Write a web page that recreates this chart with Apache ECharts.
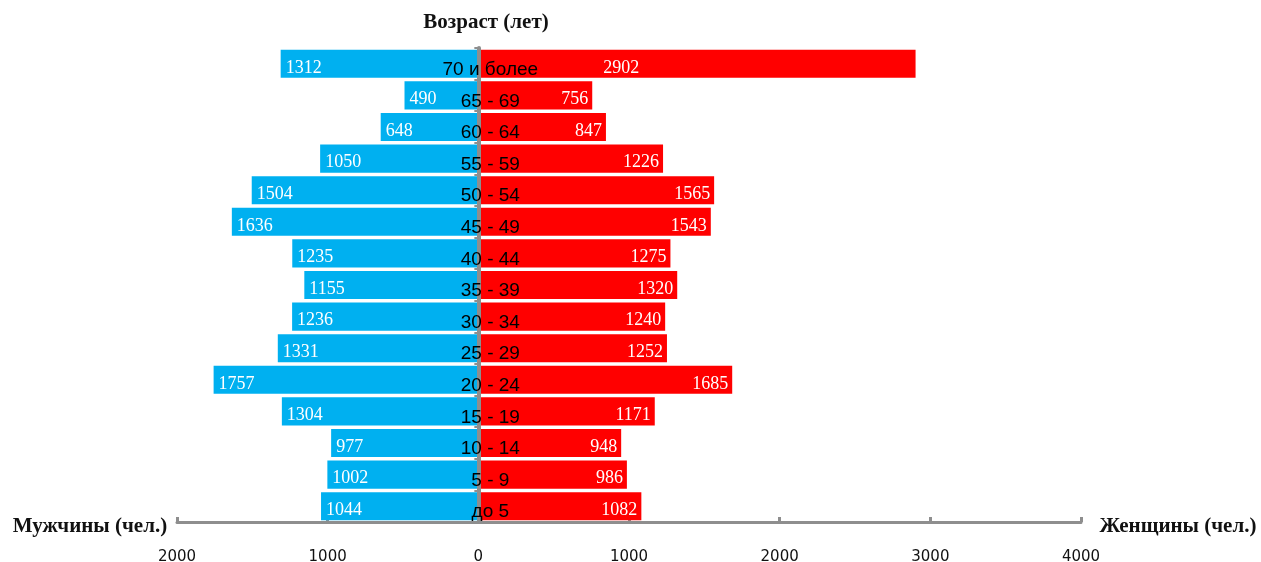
<!DOCTYPE html>
<html>
<head>
<meta charset="utf-8">
<script src="https://cdn.jsdelivr.net/npm/echarts@6/dist/echarts.min.js"></script>
<style>
  html, body { margin: 0; padding: 0; background: #fff; }
  #main { width: 1261px; height: 562px; }
</style>
</head>
<body>
<div id="main"></div>
<script>
// возрастные группы, снизу вверх
var ageGroups = ['до 5', '5 - 9', '10 - 14', '15 - 19', '20 - 24', '25 - 29', '30 - 34',
  '35 - 39', '40 - 44', '45 - 49', '50 - 54', '55 - 59', '60 - 64', '65 - 69', '70 и более'];
var men = [1044, 1002, 977, 1304, 1757, 1331, 1236, 1155, 1235, 1636, 1504, 1050, 648, 490, 1312];
var women = [1082, 986, 948, 1171, 1685, 1252, 1240, 1320, 1275, 1543, 1565, 1226, 847, 756, 2902];
var xTicks = [-2000, -1000, 0, 1000, 2000, 3000, 4000];

var axisGray = '#8e8e8e';
var valueFont = { color: '#fff', fontFamily: 'Liberation Serif', fontSize: 18 };
var titleFont = { fontFamily: 'Liberation Serif', fontWeight: 'bold', fontSize: 21, fill: '#111' };

var gridLeft = 177;
var gridRight = 180;
var plotWidth = 1261 - gridLeft - gridRight;
// сдвиг вертикальной оси к нулю
var zeroShift = plotWidth * (0 - xTicks[0]) / (xTicks[xTicks.length - 1] - xTicks[0]);

var myChart = echarts.init(document.getElementById('main'));

var option = {
  animation: false,
  grid: { left: gridLeft, right: gridRight, top: 48, bottom: 40, containLabel: false, outerBoundsMode: 'none' },
  xAxis: {
    type: 'value',
    min: xTicks[0],
    max: xTicks[xTicks.length - 1],
    interval: 1000,
    axisLine: { show: true, lineStyle: { color: axisGray, width: 3 } },
    axisTick: { show: true, inside: true, length: 5, lineStyle: { color: axisGray, width: 3 } },
    splitLine: { show: false },
    axisLabel: {
      margin: 28,
      color: '#111',
      fontFamily: 'DejaVu Sans',
      fontSize: 15,
      formatter: function (v) { return Math.abs(v); }
    }
  },
  yAxis: {
    type: 'category',
    data: ageGroups,
    z: 10,
    offset: -zeroShift,
    axisLine: { show: true, onZero: false, lineStyle: { color: axisGray, width: 4 } },
    axisTick: { show: true, length: 4, lineStyle: { color: axisGray, width: 2 } },
    axisLabel: {
      align: 'center',
      verticalAlign: 'top',
      lineHeight: 12,
      margin: -12,
      color: '#000',
      fontFamily: 'Liberation Sans',
      fontSize: 19
    }
  },
  series: [
    {
      name: 'Мужчины',
      type: 'bar',
      stack: 'total',
      barCategoryGap: '11%',
      itemStyle: { color: '#00b0f0' },
      label: Object.assign({
        show: true,
        position: 'insideLeft',
        distance: 5,
        offset: [0, 4],
        formatter: function (p) { return Math.abs(p.value); }
      }, valueFont),
      data: men.map(function (v) { return -v; })
    },
    {
      name: 'Женщины',
      type: 'bar',
      stack: 'total',
      barCategoryGap: '11%',
      itemStyle: { color: '#ff0000' },
      label: Object.assign({
        show: true,
        position: 'insideRight',
        distance: 4,
        offset: [0, 4]
      }, valueFont),
      data: women.map(function (v, i) {
        // у последней группы подпись стоит ближе к центру
        if (i === women.length - 1) {
          return { value: v, label: { position: [143, '50%'], align: 'center', verticalAlign: 'middle' } };
        }
        return v;
      })
    }
  ],
  graphic: [
    { type: 'text', x: 486, y: 23, style: Object.assign({ text: 'Возраст (лет)', textAlign: 'center', textVerticalAlign: 'middle' }, titleFont) },
    { type: 'text', x: 90, y: 527, style: Object.assign({ text: 'Мужчины (чел.)', textAlign: 'center', textVerticalAlign: 'middle' }, titleFont) },
    { type: 'text', x: 1178, y: 527, style: Object.assign({ text: 'Женщины (чел.)', textAlign: 'center', textVerticalAlign: 'middle' }, titleFont) }
  ]
};

myChart.setOption(option);
</script>
</body>
</html>
